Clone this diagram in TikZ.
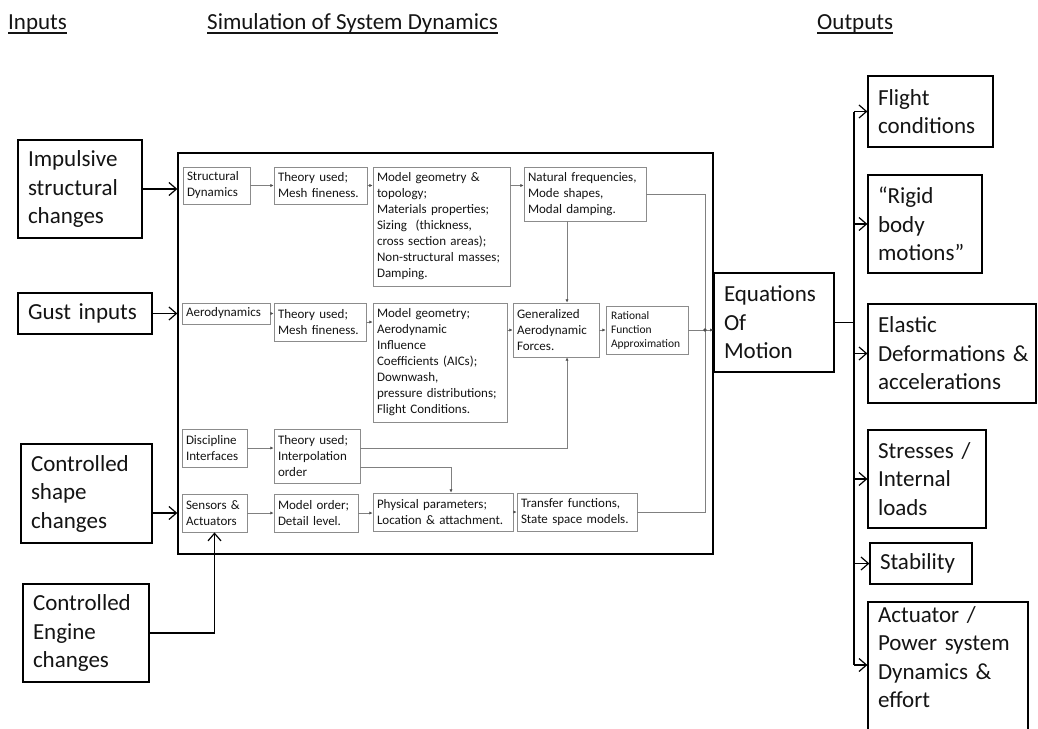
\documentclass[tikz,border=0pt]{standalone}
\usepackage{fontspec}
\setmainfont{Carlito}
\usetikzlibrary{arrows.meta}

\definecolor{ink}{HTML}{141414}
\definecolor{graybox}{HTML}{8C8C8C}
\definecolor{grayline}{HTML}{808080}
\definecolor{graytip}{HTML}{505050}

% a box given by its corners (x1,y1)-(x2,y2); y grows downwards
\newcommand\placebox[7]{%
  \pgfmathsetmacro\pbW{#5-#3}%
  \pgfmathsetmacro\pbH{#6-#4}%
  \pgfmathsetmacro\pbX{(#3+#5)/2}%
  \pgfmathsetmacro\pbY{(#4+#6)/2}%
  \node[#1, minimum width=\pbW pt, minimum height=\pbH pt] (#2) at (\pbX,\pbY) {#7};}
\newcommand\oneline[1]{\mbox{#1}}

\tikzset{
  bigbox/.style={draw=black, line width=1.2pt, inner xsep=10pt, inner ysep=1pt,
    align=left, text width={\pbW pt-20pt}, text=ink,
    font=\fontsize{23}{28.5}\selectfont},
  simbox/.style={draw=black, line width=1.3pt},
  smallbox/.style={draw=graybox, line width=0.9pt, inner xsep=4pt, inner ysep=1pt,
    align=left, text width={\pbW pt-8pt}, text=ink,
    font=\fontsize{13}{16}\selectfont},
  tinybox/.style={smallbox, inner xsep=5pt, text width={\pbW pt-10pt},
    font=\fontsize{11.5}{14}\selectfont},
  head/.style={inner sep=0pt, anchor=base west, text=ink,
    font=\fontsize{23}{28}\selectfont},
  outarrow/.style={draw=black, line width=1.2pt,
    -{Straight Barb[length=7.5pt,width=13pt,line width=1.2pt]}},
  outline/.style={draw=black, line width=1.2pt},
  inarrow/.style={draw=grayline, line width=0.8pt,
    -{Latex[length=3.2pt,width=3.2pt,color=graytip]}},
  inline/.style={draw=grayline, line width=0.8pt},
}

\begin{document}
\begin{tikzpicture}[x=1pt, y=-1pt]
\fill[white] (0,0) rectangle (1038,728);
\useasboundingbox (0,0) rectangle (1038,728);

% column headings
\node[head] (hin) at (8,29) {Inputs};
\node[head] (hsim) at (207,29) {Simulation of System Dynamics};
\node[head] (hout) at (817,29) {Outputs};
\foreach \h in {hin,hsim,hout}
  \draw[line width=1.4pt, ink] ([yshift=-4pt]\h.base west) -- ([yshift=-4pt]\h.base east);

% inputs
\placebox{bigbox}{imp}{18}{140}{142}{238}{\oneline{Impulsive}\\\oneline{structural}\\\oneline{changes}}
\placebox{bigbox}{gust}{18}{293}{152}{334}{\oneline{Gust inputs}}
\placebox{bigbox}{shape}{21}{444}{152}{543}{\oneline{Controlled}\\\oneline{shape}\\\oneline{changes}}
\placebox{bigbox}{engine}{23}{584}{149}{682}{\oneline{Controlled}\\\oneline{Engine}\\\oneline{changes}}

% simulation frame
\placebox{simbox}{sim}{178}{153}{713}{554}{}

% structural row
\placebox{smallbox}{sd}{183}{167}{250}{204}{\oneline{Structural}\\\oneline{Dynamics}}
\placebox{smallbox}{t1}{274}{167}{367}{204}{\oneline{Theory used;}\\\oneline{Mesh fineness.}}
\placebox{smallbox}{mg1}{373}{167}{510}{286}{\oneline{Model geometry \&}\\\oneline{topology;}\\\oneline{Materials properties;}\\\oneline{Sizing\ \ (thickness,}\\\oneline{cross section areas);}\\\oneline{Non-structural masses;}\\\oneline{Damping.}}
\placebox{smallbox}{nf}{524}{167}{646}{221}{\oneline{Natural frequencies,}\\\oneline{Mode shapes,}\\\oneline{Modal damping.}}

% aerodynamic row
\placebox{smallbox}{aero}{182}{303}{270}{324}{\oneline{Aerodynamics}}
\placebox{smallbox}{t2}{274}{303}{366}{341}{\oneline{Theory used;}\\\oneline{Mesh fineness.}}
\placebox{smallbox}{mg2}{373}{303}{507}{422}{\oneline{Model geometry;}\\\oneline{Aerodynamic}\\\oneline{Influence}\\\oneline{Coefficients (AICs);}\\\oneline{Downwash,}\\\oneline{pressure distributions;}\\\oneline{Flight Conditions.}}
\placebox{smallbox}{gaf}{513}{303}{599}{357}{\oneline{Generalized}\\\oneline{Aerodynamic}\\\oneline{Forces.}}
\placebox{tinybox}{rfa}{606}{306}{688}{354}{\oneline{Rational}\\\oneline{Function}\\\oneline{Approximation}}

% interfaces row
\placebox{smallbox}{di}{182}{429}{247}{467}{\oneline{Discipline}\\\oneline{Interfaces}}
\placebox{smallbox}{t3}{274}{429}{360}{483}{\oneline{Theory used;}\\\oneline{Interpolation}\\\oneline{order}}

% control row
\placebox{smallbox}{sa}{182}{494}{247}{532}{\oneline{Sensors \&}\\\oneline{Actuators}}
\placebox{smallbox}{mo}{274}{494}{358}{532}{\oneline{Model order;}\\\oneline{Detail level.}}
\placebox{smallbox}{pp}{373}{493}{513}{531}{\oneline{Physical parameters;}\\\oneline{Location \& attachment.}}
\placebox{smallbox}{tf}{517}{493}{637}{531}{\oneline{Transfer functions,}\\\oneline{State space models.}}

% equations of motion and outputs
\placebox{bigbox}{eom}{714}{273}{834}{372}{\oneline{Equations}\\\oneline{Of}\\\oneline{Motion}}
\placebox{bigbox}{flight}{868}{76}{993}{147}{\oneline{Flight}\\\oneline{conditions}}
\placebox{bigbox}{rigid}{868}{175}{982}{273}{\oneline{“Rigid}\\\oneline{body}\\\oneline{motions”}}
\placebox{bigbox}{elastic}{868}{304}{1036}{403}{\oneline{Elastic}\\\oneline{Deformations \&}\\\oneline{accelerations}}
\placebox{bigbox}{stress}{868}{430}{986}{528}{\oneline{Stresses /}\\\oneline{Internal}\\\oneline{loads}}
\placebox{bigbox}{stab}{870}{543}{972}{584}{\oneline{Stability}}
\placebox{bigbox}{act}{868}{602}{1028}{742}{\oneline{Actuator /}\\\oneline{Power system}\\\oneline{Dynamics \&}\\\oneline{effort\rule[-30pt]{0pt}{0pt}}}

% routing columns and rows
\coordinate (vx) at (567,0);
\coordinate (vx2) at (451,0);
\coordinate (bus) at (705,0);
\coordinate (obus) at (854,0);
\coordinate (ty) at (0,467);
\coordinate (actin) at ([yshift=7pt]act.west);

% inputs into the simulation
\draw[outarrow] (imp.east) -- (imp.east -| sim.west);
\draw[outarrow] (gust.east) -- (gust.east -| sim.west);
\draw[outarrow] (shape.east |- sa.west) -- (sa.west -| sim.west);
\draw[outarrow] (engine.east) -| (sa.south);

% structural row
\draw[inarrow] (sd.east) -- (sd.east -| t1.west);
\draw[inarrow] (t1.east) -- (t1.east -| mg1.west);
\draw[inarrow] (mg1.east |- t1.east) -- (nf.west |- t1.east);
\draw[inarrow] (nf.south -| vx) -- (gaf.north -| vx);

% aerodynamic row
\draw[inarrow] (aero.east) -- (aero.east -| t2.west);
\draw[inarrow] (t2.east) -- (t2.east -| mg2.west);
\draw[inarrow] (gaf.west -| mg2.east) -- (gaf.west);
\draw[inarrow] (gaf.east) -- (gaf.east -| rfa.west);

% interfaces row
\draw[inarrow] (di.east) -- (di.east -| t3.west);
\draw[inarrow] (t3.east |- di.east) -- (vx |- di.east) -- (gaf.south -| vx);
\draw[inarrow] (t3.east |- ty) -- (vx2 |- ty) -- (pp.north -| vx2);

% control row
\draw[inarrow] (sa.east) -- (sa.east -| mo.west);
\draw[inarrow] (mo.east) -- (mo.east -| pp.west);
\draw[inarrow] (pp.east) -- (pp.east -| tf.west);

% collector into the equations of motion
\draw[inline] (nf.east) -- (bus |- nf.east) -- (bus |- rfa.east);
\draw[inline] (tf.east) -- (bus |- tf.east) -- (bus |- rfa.east);
\draw[inarrow] (rfa.east) -- (rfa.east -| eom.west);
\fill[graytip] (bus |- rfa.east) circle (1.8pt);

% outputs
\draw[outline] (eom.east) -- (obus |- eom.east);
\draw[outline] (obus |- flight.west) -- (obus |- actin);
\foreach \o in {flight,rigid,elastic,stress,stab}
  \draw[outarrow] (obus |- \o.west) -- (\o.west);
\draw[outarrow] (obus |- actin) -- (actin);
\end{tikzpicture}
\end{document}
